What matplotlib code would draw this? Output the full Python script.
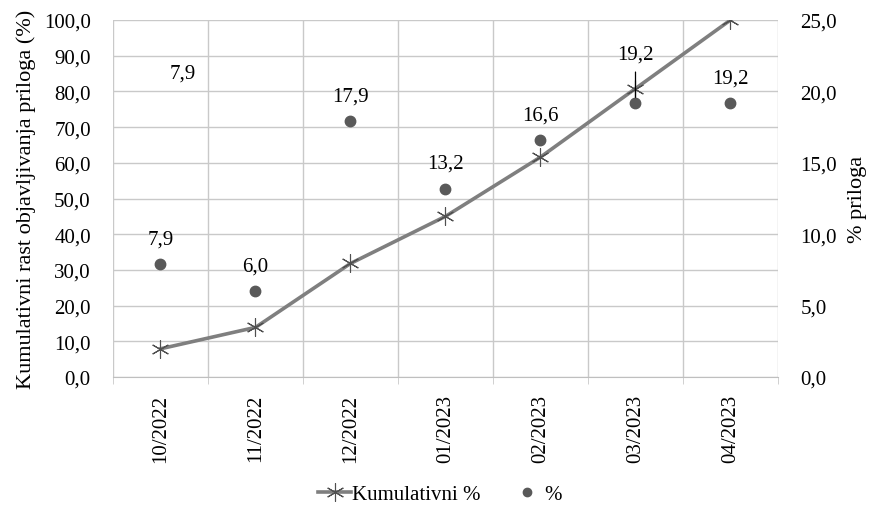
import matplotlib
matplotlib.use("Agg")
import matplotlib.pyplot as plt
from matplotlib.lines import Line2D
import numpy as np

categories = ["10/2022", "11/2022", "12/2022", "01/2023", "02/2023", "03/2023", "04/2023"]
cumulative = [7.9, 13.9, 31.8, 45.0, 61.6, 80.8, 100.0]
monthly = [7.9, 6.0, 17.9, 13.2, 16.6, 19.2, 19.2]
left_ticks = [0, 10, 20, 30, 40, 50, 60, 70, 80, 90, 100]
right_ticks = [0, 5, 10, 15, 20, 25]

plt.rcParams['font.family'] = ['Liberation Serif', 'DejaVu Serif']
FS = 15

fig = plt.figure(figsize=(8.7, 5.06), dpi=100)
ax = fig.add_axes([113/870, 1-378/506, (778-113)/870, (378-21)/506])
ax2 = ax.twinx()

x = np.arange(len(categories))
grid_c = '#c9c9c9'

ax.set_xlim(-0.5, len(categories)-0.5)
ax.set_ylim(0, 100)
ax2.set_ylim(0, 25)
ax.set_yticks(left_ticks)
ax.set_yticklabels([f"{v:.1f}".replace('.', ',') for v in left_ticks], fontsize=FS)
ax2.set_yticks(right_ticks)
ax2.set_yticklabels([f"{v:.1f}".replace('.', ',') for v in right_ticks], fontsize=FS)
ax.set_xticks(x)
ax.set_xticklabels(categories, rotation=90, fontsize=FS)
ax.set_xticks(np.arange(-0.5, len(categories), 1.0), minor=True)
ax.tick_params(axis='x', which='major', length=0, pad=12)
ax.tick_params(axis='x', which='minor', length=5, color=grid_c, direction='out')
ax.tick_params(axis='y', length=0, pad=16)
ax2.tick_params(axis='y', length=0, pad=16)

ax.grid(True, axis='y', color=grid_c, lw=1)
ax.grid(True, axis='x', which='minor', color=grid_c, lw=1)
ax.set_axisbelow(True)
for s in ['top', 'right', 'left']:
    ax.spines[s].set_visible(False)
    ax2.spines[s].set_visible(False)
ax.spines['bottom'].set_color('#bfbfbf')
ax2.spines['bottom'].set_visible(False)

ax.set_ylabel("Kumulativni rast objavljivanja priloga (%)", fontsize=16, labelpad=6)
ax2.set_ylabel("% priloga", fontsize=16, labelpad=8)

# Scatter on right axis
ax2.plot(x, monthly, linestyle='none', marker='o', ms=7.5, color='#595959', zorder=3)
# Cumulative line (left-axis scale 0-100 mapped to right axis 0-25)
ax2.plot(x, np.array(cumulative)/4.0, color='#7f7f7f', lw=2.6, marker=(6, 2, 0), ms=13,
         mec='#505050', mew=0.8, zorder=4)

for i, v in enumerate(monthly):
    lab = f"{v:.1f}".replace('.', ',')
    if i == 5:
        ax2.annotate(lab, xy=(x[i], v), xytext=(0, 35), textcoords='offset points',
                     ha='center', va='center', fontsize=FS, zorder=6,
                     arrowprops=dict(arrowstyle='-', color='black', lw=0.9,
                                     shrinkA=4, shrinkB=4))
    else:
        ax2.annotate(lab, xy=(x[i], v), xytext=(0, 18), textcoords='offset points',
                     ha='center', va='center', fontsize=FS)

ax.text(0.23, 85.1, f"{cumulative[0]:.1f}".replace('.', ','), ha='center', va='center', fontsize=FS)

handles = [Line2D([], [], color='#7f7f7f', lw=2.6, marker=(6, 2, 0), ms=13, mec='#505050', mew=0.8),
           Line2D([], [], linestyle='none', marker='o', ms=6, color='#595959')]
fig.legend(handles, ["Kumulativni %", "%"], loc='center', bbox_to_anchor=(440/870, 1-495/506),
           ncol=2, frameon=False, fontsize=FS, handlelength=1.6, handletextpad=0.05,
           columnspacing=1.4)

fig.savefig("out.png", dpi=100)
